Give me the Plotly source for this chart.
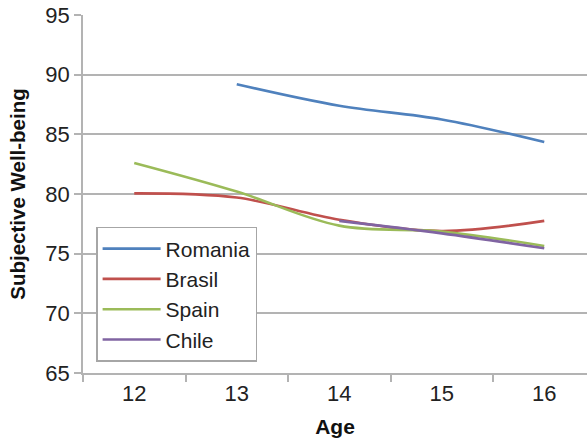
import plotly.graph_objects as go

ages = ["12", "13", "14", "15", "16"]
romania = [None, 89.2, 87.4, 86.25, 84.35]
brasil = [80.05, 79.7, 77.85, 76.9, 77.75]
spain = [82.6, 80.2, 77.35, 76.85, 75.65]
chile = [None, None, 77.75, 76.7, 75.45]

series = [("Romania", romania, "#4F81BD"),
          ("Brasil", brasil, "#C0504D"),
          ("Spain", spain, "#9BBB59"),
          ("Chile", chile, "#8064A2")]

fig = go.Figure()
for name, vals, col in series:
    fig.add_trace(go.Scatter(x=ages, y=vals, name=name, mode="lines",
                             line=dict(color=col, width=2.6, shape="spline", smoothing=1.0),
                             legendgroup=name))

FONT = "Liberation Sans, Arial, sans-serif"
fig.update_layout(
    width=587, height=441,
    margin=dict(l=83, r=0, t=15, b=68, autoexpand=False),
    paper_bgcolor="white", plot_bgcolor="white",
    font=dict(family=FONT, size=22, color="#222222"),
    showlegend=True,
    legend=dict(x=0.026, y=0.408, xanchor="left", yanchor="top",
                bgcolor="white", bordercolor="#a6a6a6", borderwidth=1.5,
                font=dict(size=21, color="#222222"), tracegroupgap=0, itemwidth=58),
    xaxis=dict(type="category", range=[-0.5, 4.417], showgrid=False, automargin=False,
               showline=True, linecolor="#b3b3b3", linewidth=1.5,
               ticks="outside", tickson="boundaries", ticklen=7, tickcolor="#b3b3b3", tickwidth=1.5,
               ticklabeloverflow="allow",
               title=dict(text="<b>Age</b>", font=dict(size=21, color="#111111"), standoff=14)),
    yaxis=dict(range=[65, 95], dtick=5, showgrid=True, gridcolor="#b3b3b3", gridwidth=1.5,
               automargin=False,
               showline=True, linecolor="#b3b3b3", linewidth=1.5, zeroline=False,
               ticks="outside", ticklen=7, tickcolor="#b3b3b3", tickwidth=1.5,
               ticklabeloverflow="allow",
               title=dict(text="<b>Subjective Well-being</b>", font=dict(size=20.5, color="#111111"), standoff=14)),
)
fig.write_html("out.html", config={"displayModeBar": False},
               post_script="document.body.style.margin='0';document.body.style.overflow='hidden';")
